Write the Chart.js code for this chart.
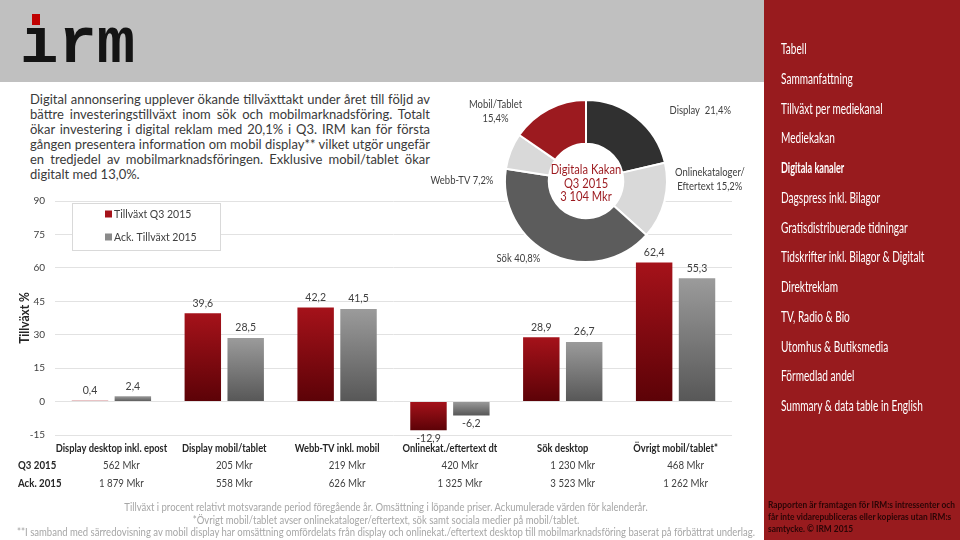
<!DOCTYPE html>
<html lang="sv">
<head>
<meta charset="utf-8">
<title>Digitala kanaler - IRM Q3 2015</title>
<script src="https://cdn.jsdelivr.net/npm/chart.js@4.4.1/dist/chart.umd.min.js"></script>
<style>
  html, body { margin: 0; padding: 0; }
  body { width: 960px; height: 540px; position: relative; overflow: hidden; background: #fff; font-family: Lato, "Open Sans", sans-serif; }
  #toppband { position: absolute; left: 0; top: 0; width: 764px; height: 82px; background: #c0c0c0; }
  #logo { position: absolute; left: 20px; top: 13px; font: bold 64px/64px "Liberation Mono", "DejaVu Sans Mono", monospace; color: #141414; }
  #prick { position: absolute; left: 32px; top: 14px; width: 8px; height: 11px; background: #c00000; }
  #ingress { position: absolute; left: 30px; top: 92px; width: 400px; font-size: 13px; line-height: 15px; color: #3a3a3a; }
  #ingress span { display: inline-block; white-space: nowrap; transform-origin: left center; }
  #sidomeny { position: absolute; left: 764px; top: 0; width: 196px; height: 540px; background: #981b1e; }
  .menyval { position: absolute; left: 17px; height: 18px; line-height: 18px; font-size: 16px; color: #fff; white-space: nowrap; transform: scaleX(0.63); transform-origin: left center; }
  .menyval.aktiv { font-weight: bold; transform: scaleX(0.57); }
  #sidonot { position: absolute; left: 4px; top: 499px; font-size: 8.5px; line-height: 12px; font-weight: bold; color: #2a0506; }
  #sidonot span { display: block; white-space: nowrap; transform-origin: left center; }
  #fotnoter { position: absolute; left: 0; top: 0; width: 764px; height: 540px; font-size: 10.5px; line-height: 12px; color: #a6a6a6; pointer-events: none; }
  #fotnoter span { position: absolute; left: 386px; white-space: nowrap; transform-origin: center center; }
  #stapelRuta { position: absolute; left: 0; top: 185px; width: 760px; height: 320px; }
  #kakRuta { position: absolute; left: 430px; top: 90px; width: 330px; height: 185px; }
</style>
</head>
<body>
<div id="toppband"></div>
<div id="logo">ırm</div>
<div id="prick"></div>

<div id="ingress"></div>

<div id="stapelRuta"><canvas id="tillvaxt"></canvas></div>
<div id="kakRuta"><canvas id="kakan"></canvas></div>

<div id="fotnoter"></div>

<div id="sidomeny">
  <div id="sidonot"></div>
</div>

<script>
// Tillväxt per digital kanal (%)
const kategorier = ['Display desktop inkl. epost', 'Display mobil/tablet', 'Webb-TV inkl. mobil', 'Onlinekat./eftertext dt', 'Sök desktop', 'Övrigt mobil/tablet*'];
const serieNamn = ['Tillväxt Q3 2015', 'Ack. Tillväxt 2015'];
const tillvaxtQ3 = [0.4, 39.6, 42.2, -12.9, 28.9, 62.4];
const tillvaxtAck = [2.4, 28.5, 41.5, -6.2, 26.7, 55.3];
const yMin = -15, yMax = 90, ySteg = 15;

// omsättning under staplarna
const radNamn = ['Q3 2015', 'Ack. 2015'];
const omsQ3 = ['562 Mkr', '205 Mkr', '219 Mkr', '420 Mkr', '1 230 Mkr', '468 Mkr'];
const omsAck = ['1 879 Mkr', '558 Mkr', '626 Mkr', '1 325 Mkr', '3 523 Mkr', '1 262 Mkr'];

// Digitala kakan Q3 2015
const kakanNamn = [['Display '], ['Onlinekataloger/', 'Eftertext'], ['Sök'], ['Webb-TV'], ['Mobil/Tablet', '']];
const kakanAndel = [21.4, 15.2, 40.8, 7.2, 15.4];
const kakanMitt = ['Digitala Kakan', 'Q3 2015', '3 104 Mkr'];

const ingressRader = [
    'Digital annonsering upplever ökande tillväxttakt under året till följd av',
    'bättre investeringstillväxt inom sök och mobilmarknadsföring. Totalt',
    'ökar investering i digital reklam med 20,1% i Q3. IRM kan för första',
    'gången presentera information om mobil display** vilket utgör ungefär',
    'en tredjedel av mobilmarknadsföringen. Exklusive mobil/tablet ökar',
    'digitalt med 13,0%.'
];
const fotnotRader = [
    'Tillväxt i procent relativt motsvarande period föregående år. Omsättning i löpande priser. Ackumulerade värden för kalenderår.',
    '*Övrigt mobil/tablet avser onlinekataloger/eftertext, sök samt sociala medier på mobil/tablet.',
    '**I samband med särredovisning av mobil display har omsättning omfördelats från display och onlinekat./eftertext desktop till mobilmarknadsföring baserat på förbättrat underlag.'
];
const menyVal = ['Tabell', 'Sammanfattning', 'Tillväxt per mediekanal', 'Mediekakan', 'Digitala kanaler', 'Dagspress inkl. Bilagor', 'Gratisdistribuerade tidningar', 'Tidskrifter inkl. Bilagor & Digitalt', 'Direktreklam', 'TV, Radio & Bio', 'Utomhus & Butiksmedia', 'Förmedlad andel', 'Summary & data table in English'];
const aktivtVal = 'Digitala kanaler';
const sidonotRader = ['Rapporten är framtagen för IRM:s intressenter och', 'får inte vidarepubliceras eller kopieras utan IRM:s', 'samtycke. © IRM 2015'];

const rodTopp = '#a5121a', rodBotten = '#5c0207';
const gråTopp = '#9b9b9b', gråBotten = '#575757';
const kakanFarger = ['#303030', '#d9d9d9', '#5c5c5c', '#d9d9d9', '#9c1a1f'];
const textFarg = '#404040';

Chart.defaults.font.family = 'Lato, "Open Sans", sans-serif';

function fmt(v) {
    return v.toFixed(1).replace('.', ',');
}

function textSmal(ctx, text, x, y, sx, align) {
    ctx.save();
    ctx.translate(x, y);
    ctx.scale(sx, 1);
    ctx.textAlign = align || 'center';
    ctx.fillText(text, 0, 0);
    ctx.restore();
}

function gradient(topp, botten) {
    return function(c) {
        const chart = c.chart;
        if (!chart.chartArea || c.type !== 'data') return topp;
        const y = chart.scales.y;
        const v = c.raw;
        const y1 = y.getPixelForValue(Math.max(v, 0));
        const y2 = y.getPixelForValue(Math.min(v, 0));
        if (y2 - y1 < 1) return topp;
        const g = chart.ctx.createLinearGradient(0, y1, 0, y2);
        g.addColorStop(0, topp);
        g.addColorStop(1, botten);
        return g;
    };
}

const stapelExtra = {
    id: 'stapelExtra',
    afterDraw(chart) {
        const ctx = chart.ctx;
        const area = chart.chartArea;
        const x = chart.scales.x;

        // y-axelns titel
        ctx.save();
        ctx.translate(25, (area.top + area.bottom) / 2);
        ctx.rotate(-Math.PI / 2);
        ctx.fillStyle = '#262626';
        ctx.font = 'bold 13px Lato';
        ctx.textBaseline = 'middle';
        textSmal(ctx, 'Tillväxt %', 0, 0, 0.92);
        ctx.restore();

        // förklaring
        ctx.save();
        ctx.fillStyle = '#fff';
        ctx.strokeStyle = '#d9d9d9';
        ctx.lineWidth = 1;
        ctx.fillRect(72, 18, 148, 47);
        ctx.strokeRect(72.5, 18.5, 148, 47);
        ctx.font = '10.5px Lato';
        ctx.textBaseline = 'middle';
        ctx.textAlign = 'left';
        [rodTopp, '#8a8a8a'].forEach((farg, i) => {
            const yy = 29 + i * 23;
            ctx.fillStyle = farg;
            ctx.fillRect(105, yy - 3.5, 7, 7);
            ctx.fillStyle = textFarg;
            ctx.fillText(serieNamn[i], 114, yy + 0.5);
        });
        ctx.restore();

        // värden på staplarna
        ctx.save();
        ctx.font = '10.5px Lato';
        ctx.fillStyle = textFarg;
        ctx.textAlign = 'center';
        ctx.textBaseline = 'middle';
        chart.data.datasets.forEach((ds, di) => {
            chart.getDatasetMeta(di).data.forEach((bar, i) => {
                const v = ds.data[i];
                const yy = v >= 0 ? bar.y - 10 : bar.y + 8;
                ctx.fillText(fmt(v), bar.x, yy);
            });
        });
        ctx.restore();

        // kategorinamn
        ctx.save();
        ctx.font = 'bold 11px Lato';
        ctx.fillStyle = '#262626';
        ctx.textBaseline = 'middle';
        kategorier.forEach((k, i) => {
            textSmal(ctx, k, x.getPixelForValue(i), area.bottom + 13, 0.85);
        });

        // tabell med omsättning
        [omsQ3, omsAck].forEach((rad, r) => {
            const yy = area.bottom + 30 + r * 18;
            ctx.font = 'bold 11px Lato';
            ctx.fillStyle = '#262626';
            textSmal(ctx, radNamn[r], 18, yy, 0.88, 'left');
            ctx.font = '11px Lato';
            ctx.fillStyle = textFarg;
            rad.forEach((t, i) => {
                textSmal(ctx, t, x.getPixelForValue(i) + 10, yy, 0.88);
            });
        });
        ctx.restore();
    }
};

new Chart(document.getElementById('tillvaxt'), {
    type: 'bar',
    data: {
        labels: kategorier,
        datasets: [
            { label: serieNamn[0], data: tillvaxtQ3, backgroundColor: gradient(rodTopp, rodBotten), borderWidth: 0, categoryPercentage: 0.76, barPercentage: 0.85 },
            { label: serieNamn[1], data: tillvaxtAck, backgroundColor: gradient(gråTopp, gråBotten), borderWidth: 0, categoryPercentage: 0.76, barPercentage: 0.85 }
        ]
    },
    options: {
        responsive: true,
        maintainAspectRatio: false,
        animation: false,
        layout: { padding: { top: 10, right: 28, left: 0, bottom: 0 } },
        plugins: { legend: { display: false }, tooltip: { enabled: false } },
        scales: {
            x: {
                grid: { display: false },
                border: { display: false },
                ticks: { display: false },
                afterFit: function(s) { s.height = 70; }
            },
            y: {
                min: yMin,
                max: yMax,
                ticks: { stepSize: ySteg, padding: 10, color: textFarg, font: { size: 10 } },
                grid: { color: '#e2e2e2', drawTicks: false },
                border: { display: false },
                afterFit: function(s) { s.width = 55; }
            }
        }
    },
    plugins: [stapelExtra]
});

// etiketternas förskjutning från bågens mitt
const etikettFlytt = [[52, 8], [27, -26], [-25, -13], [-31, 36], [-44, 19]];

const kakanExtra = {
    id: 'kakanExtra',
    beforeDatasetsDraw(chart) {
        const arc = chart.getDatasetMeta(0).data[0];
        const ctx = chart.ctx;
        ctx.save();
        ctx.fillStyle = '#fff';
        ctx.beginPath();
        ctx.arc(arc.x, arc.y, arc.outerRadius + 1, 0, Math.PI * 2);
        ctx.fill();
        ctx.restore();
    },
    afterDraw(chart) {
        const ctx = chart.ctx;
        const arcs = chart.getDatasetMeta(0).data;
        const cx = arcs[0].x, cy = arcs[0].y;

        ctx.save();
        ctx.fillStyle = '#9c1a1f';
        ctx.font = '13px Lato';
        ctx.textBaseline = 'middle';
        kakanMitt.forEach((t, i) => {
            textSmal(ctx, t, cx, cy - 11 + i * 13.5, 0.86);
        });

        ctx.font = '10.5px Lato';
        ctx.fillStyle = textFarg;
        arcs.forEach((arc, i) => {
            const mitt = (arc.startAngle + arc.endAngle) / 2;
            const r = arc.outerRadius + 19;
            const ax = cx + Math.cos(mitt) * r + etikettFlytt[i][0];
            const ay = cy + Math.sin(mitt) * r + etikettFlytt[i][1];
            const delar = kakanNamn[i].slice();
            const sista = delar.pop();
            delar.push(sista ? sista + ' ' + fmt(kakanAndel[i]) + '%' : fmt(kakanAndel[i]) + '%');
            delar.forEach((t, j) => {
                textSmal(ctx, t, ax, ay + (j - (delar.length - 1) / 2) * 14, 0.9);
            });
        });
        ctx.restore();
    }
};

new Chart(document.getElementById('kakan'), {
    type: 'doughnut',
    data: {
        labels: kakanNamn.map(n => n.join(' ')),
        datasets: [{
            data: kakanAndel,
            backgroundColor: kakanFarger,
            borderColor: '#fff',
            borderWidth: 2,
            hoverOffset: 0
        }]
    },
    options: {
        responsive: true,
        maintainAspectRatio: false,
        animation: false,
        cutout: '46%',
        layout: { padding: { left: 74, top: 9, right: 92, bottom: 12 } },
        plugins: { legend: { display: false }, tooltip: { enabled: false } }
    },
    plugins: [kakanExtra]
});

// texter i HTML
const ingress = document.getElementById('ingress');
ingressRader.forEach((rad, i) => {
    const s = document.createElement('span');
    s.textContent = rad;
    ingress.appendChild(s);
    ingress.appendChild(document.createElement('br'));
    if (i === ingressRader.length - 1) return;
    const mellanrum = rad.split(' ').length - 1;
    let w = s.getBoundingClientRect().width;
    let ws = (400 - w) / mellanrum;
    if (ws < -1.5) {
        s.style.wordSpacing = '-1.5px';
        w = s.getBoundingClientRect().width;
        s.style.transform = 'scaleX(' + (400 / w) + ')';
    } else {
        s.style.wordSpacing = ws + 'px';
    }
});

// fotnoter centrerade under diagrammet
const fotnoter = document.getElementById('fotnoter');
const fotSpans = fotnotRader.map((rad, i) => {
    const s = document.createElement('span');
    s.textContent = rad;
    s.style.top = (501 + i * 12.5) + 'px';
    fotnoter.appendChild(s);
    return s;
});
const fotSkala = 738 / fotSpans[2].getBoundingClientRect().width;
fotSpans.forEach(s => { s.style.transform = 'translateX(-50%) scaleX(' + fotSkala + ')'; });

const meny = document.getElementById('sidomeny');
menyVal.forEach((t, i) => {
    const d = document.createElement('div');
    d.className = 'menyval' + (t === aktivtVal ? ' aktiv' : '');
    d.textContent = t;
    d.style.top = (39 + i * 29.75) + 'px';
    meny.appendChild(d);
});

const sidonot = document.getElementById('sidonot');
const notSpans = sidonotRader.map(rad => {
    const s = document.createElement('span');
    s.textContent = rad;
    sidonot.appendChild(s);
    return s;
});
const notSkala = 187 / notSpans[0].getBoundingClientRect().width;
notSpans.forEach(s => { s.style.transform = 'scaleX(' + notSkala + ')'; });
</script>
</body>
</html>
